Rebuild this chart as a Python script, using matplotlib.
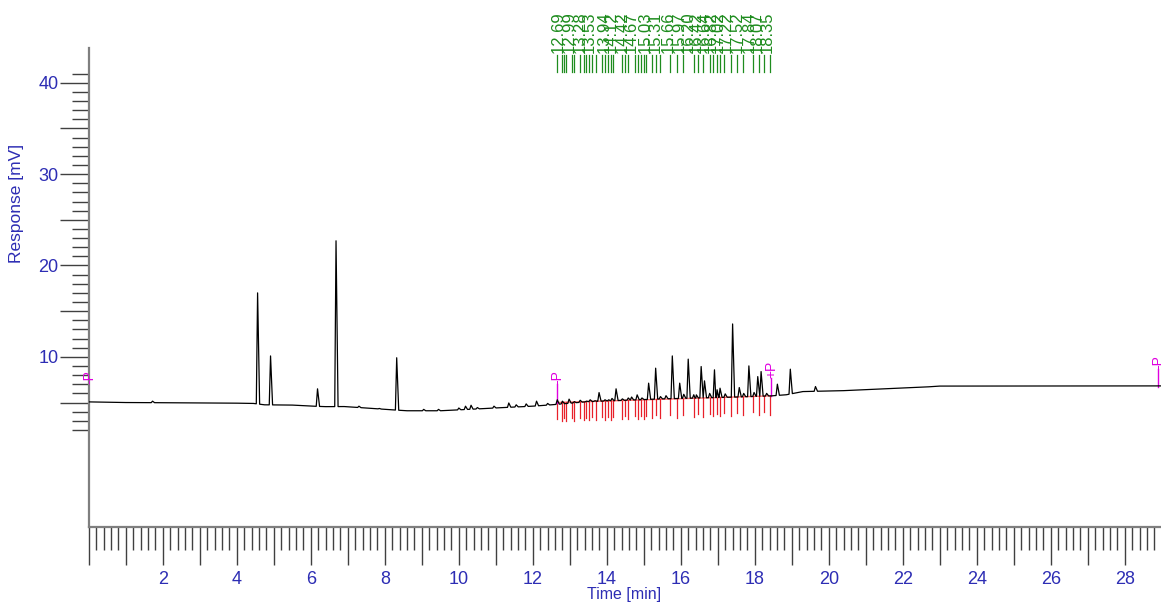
import numpy as np
import matplotlib.pyplot as plt
from matplotlib.ticker import FixedLocator

plt.rcParams['font.family'] = ['Liberation Sans', 'DejaVu Sans']
NARROW = ['Liberation Sans Narrow', 'Liberation Sans', 'DejaVu Sans']

BLUE = '#2d2db4'
GREEN = '#1e8c1e'
MAGENTA = '#e000e0'
RED = '#e8202a'

# detector baseline read at quiet stretches (min, mV)
base_t = [0.0, 1.0, 2.5, 4.0, 4.45, 4.75, 5.5, 6.05, 6.4, 6.9, 7.5, 8.2, 8.6, 9.5,
          10.5, 11.2, 12.0, 12.5, 13.5, 14.5, 15.5, 16.5, 17.5, 18.45, 18.85, 19.3,
          20.4, 21.5, 22.7, 23.0, 28.98]
base_mv = [5.07, 5.0, 4.97, 4.93, 4.9, 4.75, 4.72, 4.6, 4.55, 4.56, 4.4, 4.2, 4.1,
           4.1, 4.3, 4.45, 4.6, 4.75, 5.1, 5.25, 5.4, 5.5, 5.6, 5.73, 5.85, 6.2,
           6.3, 6.5, 6.72, 6.8, 6.82]

# peak apexes (min, mV)
peak_t = [1.72, 4.56, 4.91, 6.18, 6.68, 7.3, 7.85, 8.32, 9.05, 9.45, 10.0, 10.18,
          10.33, 10.5, 10.95, 11.35, 11.55, 11.82, 12.1, 12.4,
          12.66, 12.8, 12.98, 13.12, 13.28, 13.45, 13.55, 13.68, 13.79, 13.95,
          14.05, 14.14, 14.25, 14.42, 14.58, 14.67, 14.82, 14.95, 15.13, 15.32,
          15.45, 15.6, 15.77, 15.97, 16.08, 16.2, 16.35, 16.42, 16.55, 16.64,
          16.78, 16.91, 16.98, 17.06, 17.2, 17.4, 17.58, 17.7, 17.84, 17.98,
          18.08, 18.17, 18.32, 18.61, 18.96, 19.64]
peak_mv = [5.15, 17.0, 10.1, 6.5, 22.7, 4.6, 4.35, 9.9, 4.25, 4.25, 4.4, 4.6,
           4.7, 4.45, 4.6, 4.95, 4.75, 4.85, 5.15, 4.9,
           5.3, 5.15, 5.37, 5.1, 5.25, 5.15, 5.3, 5.2, 6.09, 5.3,
           5.3, 5.45, 6.5, 5.4, 5.5, 5.6, 5.84, 5.5, 7.12, 8.76,
           5.65, 5.75, 10.1, 7.12, 5.9, 9.75, 5.85, 5.84, 8.94, 7.37,
           6.0, 8.58, 6.4, 6.57, 5.95, 13.6, 6.64, 6.0, 9.01, 6.1,
           7.84, 8.39, 6.0, 7.01, 8.65, 6.75]

# integration window and peak drop lines
window_t = [12.66, 18.45]
window_mv = [5.0, 5.73]
drop_t = [12.66, 12.78, 12.84, 12.91, 13.05, 13.12, 13.27, 13.39, 13.45, 13.53,
          13.61, 13.72, 13.86, 13.95, 14.02, 14.10, 14.17, 14.40, 14.49, 14.58,
          14.76, 14.85, 14.92, 15.01, 15.07, 15.21, 15.33, 15.45, 15.71, 15.89,
          16.07, 16.35, 16.47, 16.61, 16.79, 16.88, 16.97, 17.06, 17.17, 17.37,
          17.51, 17.69, 17.94, 18.12, 18.26, 18.41]
drop_len = [1.75, 2.05]

rt_labels = [12.69, 12.99, 13.28, 13.53, 13.94, 14.12, 14.42, 14.67, 15.03, 15.31,
             15.66, 15.97, 16.20, 16.42, 16.64, 16.82, 17.02, 17.22, 17.52, 17.84,
             18.07, 18.35]

# event markers (min, mV at foot, text)
event_t = [0.0, 12.66, 18.45, 28.9]
event_mv = [None, 5.0, 5.73, 6.7]
event_txt = ['-P', '-P', '+P', '-P']

# build the trace: baseline plus narrow peaks
lead, tail = 0.035, 0.055
spans = [(t - lead, t + tail) for t in peak_t]
vt, vm = [], []
for t, m in zip(base_t, base_mv):
    if not any(a <= t <= b for a, b in spans):
        vt.append(t)
        vm.append(m)
for t, h in zip(peak_t, peak_mv):
    for ft in (t - lead, t + tail):
        vt.append(ft)
        vm.append(np.interp(ft, base_t, base_mv))
    vt.append(t)
    vm.append(h)
order = np.argsort(vt)
trace_t = np.array(vt)[order]
trace_mv = np.array(vm)[order]

fig = plt.figure(figsize=(11.61, 6.05), dpi=100)
W, H = 1161, 605
x0, xb, yt = 88.9, 526.8, 48.0
ax = fig.add_axes([x0 / W, (H - xb) / H, (W - x0) / W, (xb - yt) / H])
ax.set_xlim(0, 28.98)
ax.set_ylim(-8.6, 43.8)

for s in ['top', 'right']:
    ax.spines[s].set_visible(False)
for s in ['left', 'bottom']:
    ax.spines[s].set_color('#7f7f7f')
    ax.spines[s].set_linewidth(1.6)

ax.plot(trace_t, trace_mv, color='black', lw=0.9, zorder=3)

# integration baseline and drop lines
ax.plot(window_t, window_mv, color='#ff7070', lw=1.0, zorder=2)
for i, t in enumerate(drop_t):
    b = np.interp(t, window_t, window_mv)
    ax.plot([t, t], [b, b - drop_len[i % 2]], color=RED, lw=0.9, zorder=2)

# retention time markers above the plot
xt = ax.get_xaxis_transform()
g_top = (xb - 55) / (xb - yt)
g_bot = (xb - 72) / (xb - yt)
for t in drop_t:
    ax.plot([t, t], [g_bot, g_top], color=GREEN, lw=0.9, transform=xt, clip_on=False)
lab_y = (xb - 53) / (xb - yt)
for t in rt_labels:
    ax.text(t, lab_y, f'{t:.2f}', rotation=90, ha='center', va='bottom',
            color=GREEN, fontsize=12, transform=xt, clip_on=False)

# event markers
for t, m, s in zip(event_t, event_mv, event_txt):
    if m is None:
        ax.text(t, 7.0, s, rotation=90, ha='center', va='bottom', color=MAGENTA,
                fontsize=10, clip_on=False)
        continue
    top = m + 2.0
    ax.plot([t, t], [m, top], color=MAGENTA, lw=1.0, clip_on=False)
    ax.text(t, top, s, rotation=90, ha='center', va='bottom', color=MAGENTA,
            fontsize=10, clip_on=False)

# axes ticks
xmaj = list(range(0, 29))
ax.set_xticks(xmaj, [str(i) if i % 2 == 0 and i > 0 else '' for i in xmaj],
              fontfamily=NARROW)
ax.xaxis.set_minor_locator(FixedLocator(np.arange(0, 29.0, 0.2)))
ax.tick_params(axis='x', which='major', direction='out', length=27.4, width=1,
               color='#404040', pad=4.3, labelsize=13, labelcolor=BLUE)
ax.tick_params(axis='x', which='minor', direction='out', length=16.6, width=1,
               color='#404040')

ymaj = list(range(5, 41, 5))
ax.set_yticks(ymaj, [str(v) if v % 10 == 0 else '' for v in ymaj], fontfamily=NARROW)
ax.yaxis.set_minor_locator(FixedLocator(range(2, 42)))
ax.tick_params(axis='y', which='major', direction='out', length=20.9, width=1,
               color='#404040', pad=1, labelsize=13, labelcolor=BLUE)
ax.tick_params(axis='y', which='minor', direction='out', length=12.2, width=1,
               color='#404040')

fig.text(17 / W, 1 - 203 / H, 'Response [mV]', rotation=90, ha='center',
         va='center', color=BLUE, fontsize=12.5)
fig.text(624 / W, 1 - 594 / H, 'Time [min]', ha='center', va='center',
         color=BLUE, fontsize=11.5)

fig.savefig('out.png', dpi=100)
